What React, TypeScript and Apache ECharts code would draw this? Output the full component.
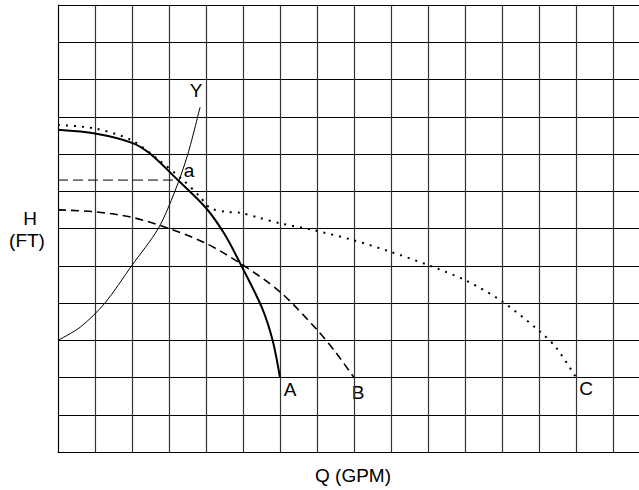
import React, { useEffect, useRef } from "react";
import * as echarts from "echarts";

// Values in grid units (Q: columns, H: rows)
const Q_A = [0, 1, 2, 2.5, 3.24, 4, 4.5, 4.92, 5.5, 5.8, 6];
const H_A = [8.65, 8.55, 8.3, 8.0, 7.3, 6.55, 5.85, 5.07, 3.9, 3.0, 2.0];

const Q_B = [0, 1, 2, 3, 4, 4.92, 6, 7, 7.5, 8];
const H_B = [6.5, 6.45, 6.3, 6.0, 5.6, 5.07, 4.3, 3.28, 2.68, 2.0];

const Q_C = [0, 0.97, 1.97, 2.67, 3.38, 3.84, 4.11, 4.51, 4.92, 5.46, 6, 6.89, 7.97, 8.97, 10, 11.05, 11.99, 13.03, 13.48, 14];
const H_C = [8.78, 8.69, 8.38, 7.88, 7.3, 6.85, 6.55, 6.45, 6.42, 6.28, 6.14, 5.96, 5.69, 5.38, 5.02, 4.59, 4.05, 3.23, 2.78, 2.0];

const Q_Y = [0, 0.6, 1.27, 1.99, 2.71, 3.16, 3.51, 3.84];
const H_Y = [3.0, 3.35, 4.0, 5.0, 6.0, 7.0, 8.0, 9.26];

const Q_AH = [0, 3.24];
const H_AH = [7.3, 7.3];

const zip = (a: number[], b: number[]) => a.map((v, i) => [v, b[i]]);

const FONT = "'Liberation Sans', Arial, sans-serif";

export default function App() {
  const ref = useRef<HTMLDivElement>(null);
  useEffect(() => {
    document.body.style.margin = "0";
    const chart = echarts.init(ref.current!, null, { renderer: "svg" });
    const txt = (x: number, y: number, t: string) => ({
      type: "text",
      x,
      y,
      style: { text: t, font: `19px ${FONT}`, fill: "#000", align: "center", verticalAlign: "middle" },
    });
    chart.setOption({
      animation: false,
      backgroundColor: "#fff",
      grid: { left: 58, top: 5, width: 592, height: 447 },
      xAxis: {
        type: "value",
        min: 0,
        max: 16,
        interval: 1,
        axisLine: { show: true, lineStyle: { color: "#000", width: 1 } },
        axisTick: { show: false },
        axisLabel: { show: false },
        splitLine: { show: true, lineStyle: { color: "#333", width: 1.2 } },
      },
      yAxis: {
        type: "value",
        min: 0,
        max: 12,
        interval: 1,
        axisLine: { show: true, lineStyle: { color: "#000", width: 1 } },
        axisTick: { show: false },
        axisLabel: { show: false },
        splitLine: { show: true, lineStyle: { color: "#000", width: 1 } },
      },
      series: [
        {
          type: "line",
          data: zip(Q_C, H_C),
          showSymbol: false,
          smooth: 0.3,
          lineStyle: { color: "#000", width: 2, type: [2, 6] },
        },
        {
          type: "line",
          data: zip(Q_B, H_B),
          showSymbol: false,
          smooth: 0.3,
          lineStyle: { color: "#000", width: 1.6, type: [8, 5] },
        },
        {
          type: "line",
          data: zip(Q_A, H_A),
          showSymbol: false,
          smooth: 0.3,
          lineStyle: { color: "#000", width: 2 },
        },
        {
          type: "line",
          data: zip(Q_Y, H_Y),
          showSymbol: false,
          smooth: 0.3,
          lineStyle: { color: "#000", width: 1 },
        },
        {
          type: "line",
          data: zip(Q_AH, H_AH),
          showSymbol: false,
          lineStyle: { color: "#000", width: 1, type: [10, 5] },
        },
      ],
      graphic: [
        txt(196, 90, "Y"),
        txt(189, 170, "a"),
        txt(290, 389, "A"),
        txt(358, 392, "B"),
        txt(586, 388, "C"),
        txt(30, 218, "H"),
        txt(27, 240, "(FT)"),
        txt(353, 475, "Q (GPM)"),
      ],
    });
    return () => chart.dispose();
  }, []);
  return (
    <div style={{ width: 639, height: 490, overflow: "hidden" }}>
      <div ref={ref} style={{ width: 660, height: 490 }} />
    </div>
  );
}
